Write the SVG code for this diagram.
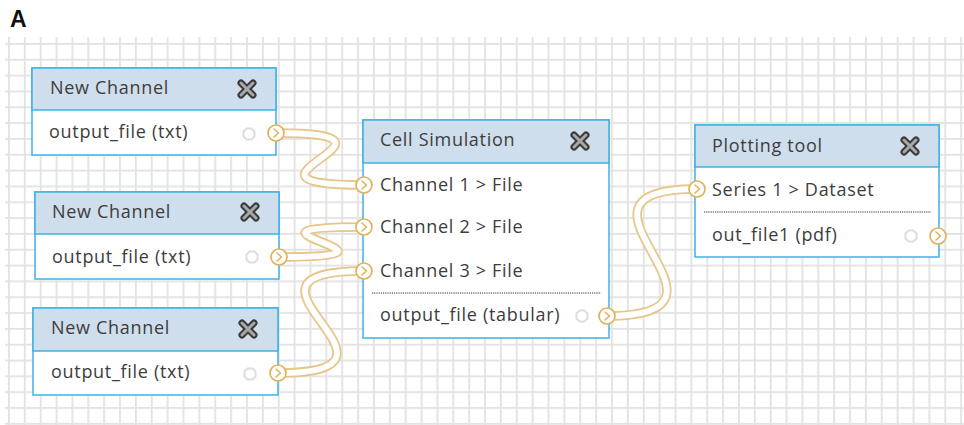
<svg xmlns="http://www.w3.org/2000/svg" width="964" height="425" viewBox="0 0 964 425">
<defs>
<style>
.box{fill:#ffffff;stroke:#3db2e4;stroke-width:1.5}
.hdr{fill:#cfdeec;stroke:#3db2e4;stroke-width:1.5}
.t{font-family:"Open Sans","Noto Sans",sans-serif;font-size:18px;letter-spacing:0.7px;fill:#3d3d3d}
.sep{stroke:#333;stroke-width:1;stroke-dasharray:1.2 1}
.tube-o{fill:none;stroke:#e6c68a;stroke-width:9.5;stroke-linecap:round}
.tube-i{fill:none;stroke:#ffffff;stroke-width:6;stroke-linecap:round}
.port{fill:#ffffff;stroke:#dfb25e;stroke-width:1.7}
.chev{fill:none;stroke:#dfb25e;stroke-width:1.6;stroke-linecap:round;stroke-linejoin:round}
.gear{fill:none;stroke:#dedede;stroke-width:2}
.xo{stroke:#3a3a3a;stroke-width:7;stroke-linecap:round}
.xi{stroke:#a8a8a8;stroke-width:3;stroke-linecap:round}
</style>
<pattern id="grid" patternUnits="userSpaceOnUse" x="8" y="43" width="15.87" height="15.83">
<rect x="0" y="0" width="15.87" height="1.8" fill="#e2e2e2"/>
<rect x="0" y="0" width="1.8" height="15.83" fill="#e2e2e2"/>
</pattern>
<g id="xicon">
<line class="xo" x1="-6" y1="-6" x2="6" y2="6"/>
<line class="xo" x1="-6" y1="6" x2="6" y2="-6"/>
<line class="xi" x1="-6" y1="-6" x2="6" y2="6"/>
<line class="xi" x1="-6" y1="6" x2="6" y2="-6"/>
</g>
<g id="gearicon">
<polygon class="gear" points="-2.5,-5.5 2.5,-5.5 5.5,-2.5 5.5,2.5 2.5,5.5 -2.5,5.5 -5.5,2.5 -5.5,-2.5"/>
</g>
<g id="porticon">
<circle class="port" cx="0" cy="0" r="8"/>
<polyline class="chev" points="-2,-4 2.5,0 -2,4"/>
</g>
</defs>
<rect width="964" height="425" fill="#ffffff"/>
<text x="10" y="27" style="font-family:'Liberation Sans',Arial,sans-serif;font-size:23px;font-weight:bold;fill:#111">A</text>
<rect x="5" y="37" width="959" height="388" fill="url(#grid)"/>

<g id="connectors">
<path class="tube-o" d="M276,133 C436,133 204,185 364,185"/>
<path class="tube-i" d="M276,133 C436,133 204,185 364,185"/>
<path class="tube-o" d="M279,257 C439,257 204,227 364,227"/>
<path class="tube-i" d="M279,257 C439,257 204,227 364,227"/>
<path class="tube-o" d="M278,373 C438,373 204,271 364,271"/>
<path class="tube-i" d="M278,373 C438,373 204,271 364,271"/>
<path class="tube-o" d="M607,316 C767,316 537,189 697,189"/>
<path class="tube-i" d="M607,316 C767,316 537,189 697,189"/>
</g>

<g id="node-channel1">
<rect class="box" x="32" y="68" width="244" height="87"/>
<rect class="hdr" x="32" y="68" width="244" height="42"/>
<text class="t" x="50" y="94">New Channel</text>
<use href="#xicon" x="247" y="89"/>
<text class="t" x="49" y="138">output_file (txt)</text>
<use href="#gearicon" x="249" y="134"/>
<use href="#porticon" x="276" y="133"/>
</g>

<g id="node-channel2">
<rect class="box" x="35" y="192" width="244" height="87"/>
<rect class="hdr" x="35" y="192" width="244" height="42"/>
<text class="t" x="52" y="218">New Channel</text>
<use href="#xicon" x="250" y="212"/>
<text class="t" x="52" y="263">output_file (txt)</text>
<use href="#gearicon" x="252" y="257"/>
<use href="#porticon" x="279" y="257"/>
</g>

<g id="node-channel3">
<rect class="box" x="33" y="308" width="245" height="87"/>
<rect class="hdr" x="33" y="308" width="245" height="43"/>
<text class="t" x="51" y="334">New Channel</text>
<use href="#xicon" x="248" y="329"/>
<text class="t" x="51" y="378">output_file (txt)</text>
<use href="#gearicon" x="250" y="374"/>
<use href="#porticon" x="278" y="373"/>
</g>

<g id="node-cellsim">
<rect class="box" x="363" y="120" width="246" height="218"/>
<rect class="hdr" x="363" y="120" width="246" height="43"/>
<text class="t" x="380" y="146">Cell Simulation</text>
<use href="#xicon" x="580" y="141"/>
<text class="t" x="380" y="191">Channel 1 &gt; File</text>
<text class="t" x="380" y="233">Channel 2 &gt; File</text>
<text class="t" x="380" y="277">Channel 3 &gt; File</text>
<line class="sep" x1="372" y1="293" x2="601" y2="293"/>
<text class="t" x="380" y="321">output_file (tabular)</text>
<use href="#gearicon" x="582" y="316"/>
<use href="#porticon" x="364" y="185"/>
<use href="#porticon" x="364" y="227"/>
<use href="#porticon" x="364" y="271"/>
<use href="#porticon" x="607" y="316"/>
</g>

<g id="node-plotting">
<rect class="box" x="695" y="125" width="244" height="132"/>
<rect class="hdr" x="695" y="125" width="244" height="42"/>
<text class="t" x="712" y="152">Plotting tool</text>
<use href="#xicon" x="910" y="146"/>
<text class="t" x="712" y="196">Series 1 &gt; Dataset</text>
<line class="sep" x1="704" y1="212" x2="931" y2="212"/>
<text class="t" x="712" y="241">out_file1 (pdf)</text>
<use href="#gearicon" x="911" y="236"/>
<use href="#porticon" x="697" y="189"/>
<use href="#porticon" x="938" y="236"/>
</g>
</svg>
